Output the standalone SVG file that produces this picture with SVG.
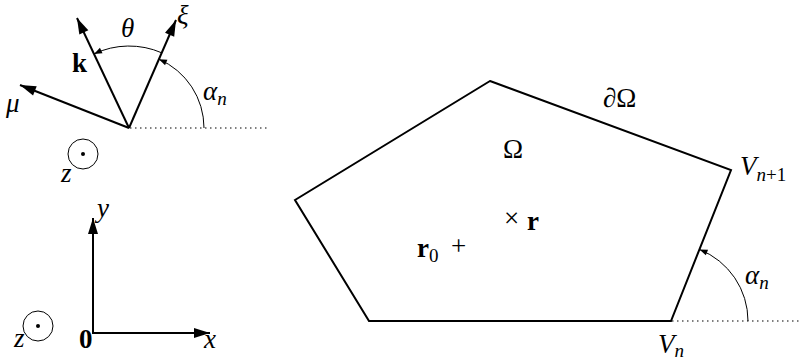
<svg xmlns="http://www.w3.org/2000/svg" width="801" height="360" viewBox="0 0 801 360">
<style>
.thick{stroke:#000;stroke-width:2;fill:none}
.thin{stroke:#000;stroke-width:1;fill:none}
.dot{stroke:#000;stroke-width:1.2;fill:none;stroke-dasharray:1.5 3.5}
.m{font-family:"Liberation Serif",serif;font-style:italic;font-size:27px;fill:#000}
.b{font-family:"Liberation Serif",serif;font-weight:bold;font-size:27px;fill:#000}
.u{font-family:"Liberation Serif",serif;font-size:27px;fill:#000}
.s{font-size:19px}
</style>
<defs>
<marker id="big" markerUnits="userSpaceOnUse" markerWidth="17" markerHeight="10" refX="16" refY="5" orient="auto" overflow="visible">
<path d="M0,0 L16,5 L0,10 Z" fill="#000"/>
</marker>
<marker id="small" markerUnits="userSpaceOnUse" markerWidth="9" markerHeight="6" refX="8" refY="3" orient="auto" overflow="visible">
<path d="M0,0 L8,3 L0,6 Z" fill="#000"/>
</marker>
</defs>

<g id="vectors">
<line class="thick" x1="129" y1="128" x2="176" y2="20" marker-end="url(#big)"/>
<line class="thick" x1="129" y1="128" x2="77" y2="18" marker-end="url(#big)"/>
<line class="thick" x1="129" y1="128" x2="20" y2="85" marker-end="url(#big)"/>
<line class="dot" x1="130" y1="128" x2="270" y2="128"/>
<path class="thin" d="M161.7,52.8 A82 82 0 0 0 94,53.9" marker-end="url(#small)"/>
<path class="thin" d="M204,128 A75 75 0 0 0 158.9,59.2" marker-end="url(#small)"/>
<text class="m" x="121" y="37">θ</text>
<text class="m" x="177" y="24">ξ</text>
<text class="b" x="72" y="72">k</text>
<text class="m" x="203" y="100">α<tspan class="s" dy="5">n</tspan></text>
<text class="m" x="6" y="112">μ</text>
</g>

<g id="z-top">
<circle class="thin" cx="83" cy="154" r="15"/>
<circle cx="83" cy="154" r="2" fill="#000"/>
<text class="m" x="61" y="182">z</text>
</g>

<g id="axes">
<line class="thick" x1="93" y1="334" x2="93" y2="218" marker-end="url(#big)"/>
<line class="thick" x1="92" y1="333" x2="210" y2="333" marker-end="url(#big)"/>
<text class="m" x="97" y="217">y</text>
<text class="b" x="79" y="348">0</text>
<text class="m" x="204" y="348">x</text>
</g>

<g id="z-bottom">
<circle class="thin" cx="38" cy="326" r="15"/>
<circle cx="38" cy="326" r="2" fill="#000"/>
<text class="m" x="14" y="347">z</text>
</g>

<g id="domain">
<polygon class="thick" points="490,81 731,170 671,321 369,321 295,200"/>
<line class="dot" x1="672" y1="321" x2="800" y2="321"/>
<path class="thin" d="M748,321 A77 77 0 0 0 699.5,249.5" marker-end="url(#small)"/>
<text class="u" x="513" y="158" text-anchor="middle">Ω</text>
<text class="m" x="603" y="107">∂<tspan font-style="normal">Ω</tspan></text>
<text class="m" x="740" y="175">V<tspan class="s" dy="6">n</tspan><tspan class="s" font-style="normal">+1</tspan></text>
<text class="m" x="745" y="284">α<tspan class="s" dy="5">n</tspan></text>
<text class="m" x="658" y="353">V<tspan class="s" dy="4">n</tspan></text>
<text class="u" x="504" y="227">×</text>
<text class="b" x="527" y="230">r</text>
<text class="b" x="417" y="257">r<tspan class="s" font-weight="normal" dy="5">0</tspan></text>
<text class="u" x="451" y="255">+</text>
</g>
</svg>
